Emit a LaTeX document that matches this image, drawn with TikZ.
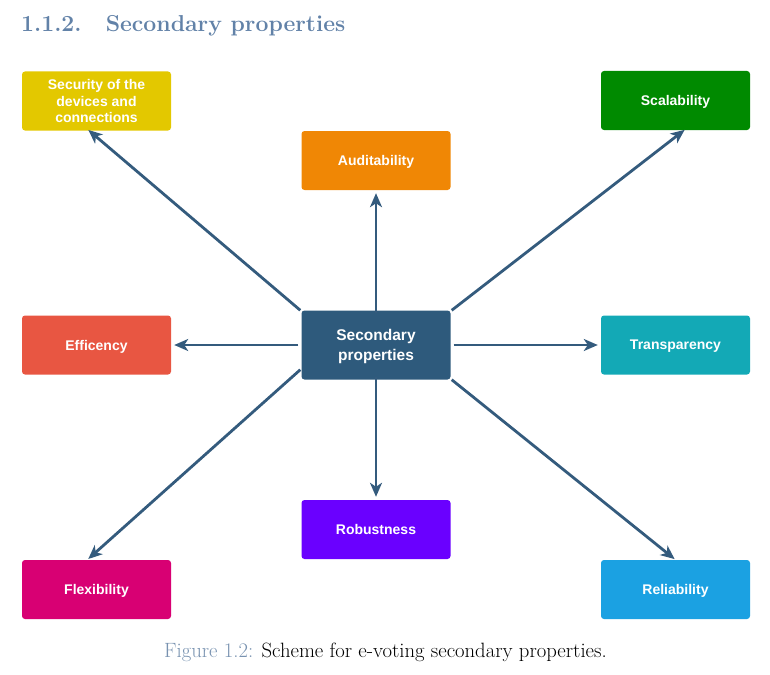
\documentclass[tikz,border=0pt]{standalone}
\usepackage{fontspec}
\setsansfont{Liberation Sans}
\usetikzlibrary{arrows.meta}
\definecolor{headc}{RGB}{98,130,168}
\definecolor{capc}{RGB}{120,146,176}
\definecolor{arrc}{RGB}{52,91,125}
\definecolor{cmain}{RGB}{46,90,124}
\definecolor{csec}{HTML}{E3C800}
\definecolor{caud}{HTML}{F08705}
\definecolor{cscal}{HTML}{008A00}
\definecolor{ceff}{HTML}{E85642}
\definecolor{ctrans}{HTML}{13A9B6}
\definecolor{crob}{HTML}{6A00FF}
\definecolor{cflex}{HTML}{D80073}
\definecolor{crel}{HTML}{1BA1E2}
\tikzset{
  prop/.style={rectangle, rounded corners=3pt, minimum width=149pt, minimum height=59pt,
    inner sep=2pt, align=center, text=white, text depth=-1.5pt, font=\sffamily\bfseries\fontsize{14}{16.5}\selectfont},
  conn/.style={draw=arrc, line width=2.8pt, -{Stealth[length=14pt,width=12pt,inset=4pt]}, shorten >=3pt}
}
\begin{document}
\begin{tikzpicture}[x=1pt,y=-1pt]
\useasboundingbox (0,0) rectangle (770,674);
\node[anchor=base west, inner sep=0pt, text=headc, font=\bfseries\fontsize{23}{26}\selectfont] (head) at (21,32) {1.1.2.\hspace{1.05em}Secondary properties};
\node[prop, fill=cmain, minimum height=69pt, text depth=-1pt, font=\sffamily\bfseries\fontsize{15.5}{20}\selectfont] (main) at (376,345) {Secondary\\properties};
\node[prop, fill=csec] (sec) at (96.5,101) {Security of the\\devices and\\connections};
\node[prop, fill=caud] (aud) at (376,160.5) {Auditability};
\node[prop, fill=cscal] (scal) at (675.5,100.5) {Scalability};
\node[prop, fill=ceff] (eff) at (96.5,345) {Efficency};
\node[prop, fill=ctrans] (trans) at (675.5,345) {Transparency};
\node[prop, fill=crob] (rob) at (376,529.5) {Robustness};
\node[prop, fill=cflex] (flex) at (96.5,589.5) {Flexibility};
\node[prop, fill=crel] (rel) at (675.5,589.5) {Reliability};
\coordinate (tsec) at (86,128);
\coordinate (tscal) at (687,128);
\coordinate (tflex) at (86,561);
\coordinate (trel) at (677,561);
\draw[conn] (main.north west) ++(-1,0) -- (tsec);
\draw[conn] (main.north east) ++(1,0) -- (tscal);
\draw[conn] (main.south west) ++(-1,-10) -- (tflex);
\draw[conn] (main.south east) ++(1,0) -- (trel);
\draw[conn] ([yshift=-3pt]main.north) -- (aud.south);
\draw[conn] ([yshift=3pt]main.south) -- (rob.north);
\draw[conn] ([xshift=-3pt]main.west) -- (eff.east);
\draw[conn] ([xshift=3pt]main.east) -- (trans.west);
\node[anchor=base west, inner sep=0pt, font=\fontsize{20.7}{24}\selectfont] (cap) at (164,657) {\textcolor{capc}{Figure 1.2:} Scheme for e-voting secondary properties.};
\end{tikzpicture}
\end{document}
